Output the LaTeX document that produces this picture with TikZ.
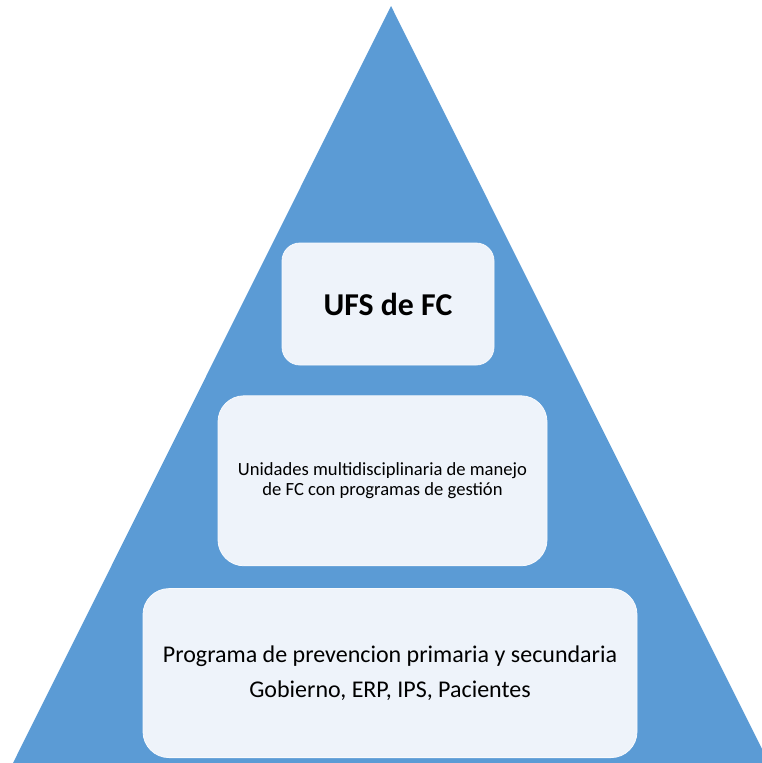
\documentclass[tikz,border=0pt]{standalone}
\usepackage{fontspec}
\setmainfont{Carlito}
\usetikzlibrary{positioning}
\definecolor{pyramid}{RGB}{91,155,213}
\definecolor{boxfill}{RGB}{238,243,250}
\tikzset{level node/.style={rectangle, rounded corners=26pt, fill=boxfill, draw=white!60!boxfill, line width=0.8pt, align=center, inner sep=0pt}, }

\begin{document}
\begin{tikzpicture}[x=1pt,y=-1pt]
	\useasboundingbox (0,0) rectangle (762,763);
	\clip (0,0) rectangle (762,763);
	\fill[pyramid] (391,6) -- (13,763) -- (769,763) -- cycle;
	\node[level node, rounded corners=18pt, minimum width=212pt, minimum height=122pt, font=\bfseries\fontsize{31.8}{37}\selectfont] (1) at (388,304) {UFS de FC};
	\node[level node, minimum width=329pt, minimum height=170pt, font=\fontsize{18.6}{19.5}\selectfont] (2) [below = 30pt of 1, xshift=-5.5pt] {Unidades multidisciplinaria de manejo\\de FC con programas de gestión};
	\node[level node, minimum width=494pt, minimum height=169pt, font=\fontsize{24}{35}\selectfont] (3) [below = 22pt of 2, xshift=7.5pt] {Programa de prevencion primaria y secundaria\\Gobierno, ERP, IPS, Pacientes};
\end{tikzpicture}
\end{document}
